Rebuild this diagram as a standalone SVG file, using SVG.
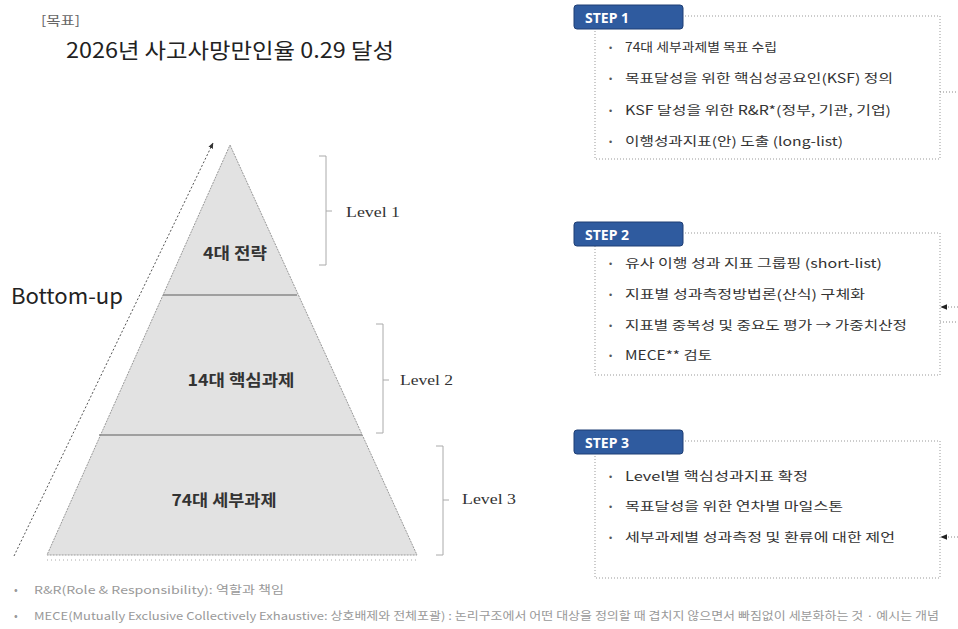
<svg xmlns="http://www.w3.org/2000/svg" width="958" height="629" viewBox="0 0 958 629">
<defs>
<style>
.kr{font-family:"Noto Sans CJK KR","Noto Sans",sans-serif}
.tab{fill:#2f5b9f;stroke:#1f3f75;stroke-width:1}
.tabt{font-family:"Noto Sans","Liberation Sans",sans-serif;font-weight:bold;font-size:14px;fill:#fff}
.box{fill:none;stroke:#999;stroke-width:1;stroke-dasharray:1 2}
.item{font-family:"Noto Sans CJK KR",sans-serif;font-size:12.5px;fill:#333}
.bul{font-family:"Liberation Sans",sans-serif;font-size:9px;fill:#555}
.lvl{font-family:"Liberation Serif",serif;font-size:14px;fill:#333}
.brk{fill:none;stroke:#aaa;stroke-width:1}
.pyr{font-family:"Noto Sans CJK KR",sans-serif;font-size:16px;font-weight:bold;fill:#333}
.foot{font-family:"Noto Sans CJK KR",sans-serif;font-size:11px;fill:#999}
.conn{fill:none;stroke:#888;stroke-width:1;stroke-dasharray:1 2}
</style>
<marker id="ah" viewBox="0 0 10 10" refX="9" refY="5" markerWidth="6" markerHeight="6" orient="auto">
<path d="M0,1 L10,5 L0,9 z" fill="#333"/>
</marker>
<marker id="ah2" viewBox="0 0 10 10" refX="9" refY="5" markerWidth="7" markerHeight="7" orient="auto">
<path d="M0,1 L10,5 L0,9 z" fill="#222"/>
</marker>
</defs>
<rect width="958" height="629" fill="#fff"/>

<g id="title">
<text x="41" y="25" class="kr" font-size="13" fill="#666" textLength="39" lengthAdjust="spacingAndGlyphs">[목표]</text>
<text x="66" y="58" class="kr" font-size="21" fill="#222" textLength="328" lengthAdjust="spacingAndGlyphs">2026년 사고사망만인율 0.29 달성</text>
</g>

<g id="pyramid">
<polygon points="230,145 417,555 47,555" fill="#e2e2e2" stroke="#999" stroke-width="1" stroke-dasharray="2 1"/>
<line x1="163" y1="295" x2="297" y2="295" stroke="#888" stroke-width="1.5"/>
<line x1="99" y1="435" x2="362" y2="435" stroke="#888" stroke-width="1.5"/>
<line x1="47" y1="560" x2="417" y2="560" stroke="#aaa" stroke-width="1" stroke-dasharray="1 3"/>
</g>
<g id="lvl1node"><text x="235" y="259" text-anchor="middle" class="pyr" textLength="64" lengthAdjust="spacingAndGlyphs">4대 전략</text></g>
<g id="lvl2node"><text x="241" y="386" text-anchor="middle" class="pyr" textLength="107" lengthAdjust="spacingAndGlyphs">14대 핵심과제</text></g>
<g id="lvl3node"><text x="224" y="506" text-anchor="middle" class="pyr" textLength="105" lengthAdjust="spacingAndGlyphs">74대 세부과제</text></g>

<g id="bottomup">
<line x1="14" y1="556" x2="213" y2="143" stroke="#555" stroke-width="1" stroke-dasharray="2 2" marker-end="url(#ah)"/>
<text x="11" y="304" class="kr" font-size="21" fill="#222" textLength="112" lengthAdjust="spacingAndGlyphs">Bottom-up</text>
</g>

<g id="level1">
<path class="brk" d="M319,156 H326 V265 H319 M326,211 H332"/>
<text x="346" y="217" class="lvl" textLength="54" lengthAdjust="spacingAndGlyphs">Level 1</text>
</g>
<g id="level2">
<path class="brk" d="M376,324 H383 V433 H376 M383,380 H389"/>
<text x="400" y="385" class="lvl" textLength="53" lengthAdjust="spacingAndGlyphs">Level 2</text>
</g>
<g id="level3">
<path class="brk" d="M436,446 H443 V555 H436 M443,500 H449"/>
<text x="462" y="504" class="lvl" textLength="54" lengthAdjust="spacingAndGlyphs">Level 3</text>
</g>

<g id="step1">
<rect class="box" x="595" y="16" width="345" height="143"/>
<rect class="tab" x="574" y="5" width="109" height="24" rx="3"/>
<text x="585" y="23" class="tabt">STEP 1</text>
<text x="609" y="51" class="bul">•</text><text x="625" y="52" class="item" textLength="152" lengthAdjust="spacingAndGlyphs">74대 세부과제별 목표 수립</text>
<text x="609" y="82" class="bul">•</text><text x="625" y="83" class="item" textLength="268" lengthAdjust="spacingAndGlyphs">목표달성을 위한 핵심성공요인(KSF) 정의</text>
<text x="609" y="114" class="bul">•</text><text x="625" y="115" class="item" textLength="266" lengthAdjust="spacingAndGlyphs">KSF 달성을 위한 R&amp;R*(정부, 기관, 기업)</text>
<text x="609" y="145" class="bul">•</text><text x="625" y="146" class="item" textLength="218" lengthAdjust="spacingAndGlyphs">이행성과지표(안) 도출 (long-list)</text>
</g>

<g id="step2">
<rect class="box" x="595" y="233" width="345" height="142"/>
<rect class="tab" x="574" y="222" width="109" height="24" rx="3"/>
<text x="585" y="240" class="tabt">STEP 2</text>
<text x="609" y="267" class="bul">•</text><text x="625" y="268" class="item" textLength="257" lengthAdjust="spacingAndGlyphs">유사 이행 성과 지표 그룹핑 (short-list)</text>
<text x="609" y="298" class="bul">•</text><text x="625" y="299" class="item" textLength="240" lengthAdjust="spacingAndGlyphs">지표별 성과측정방법론(산식) 구체화</text>
<text x="609" y="329" class="bul">•</text><text x="625" y="330" class="item" textLength="282" lengthAdjust="spacingAndGlyphs">지표별 중복성 및 중요도 평가 → 가중치산정</text>
<text x="609" y="359" class="bul">•</text><text x="625" y="360" class="item" textLength="87" lengthAdjust="spacingAndGlyphs">MECE** 검토</text>
</g>

<g id="step3">
<rect class="box" x="595" y="441" width="345" height="137"/>
<rect class="tab" x="574" y="430" width="109" height="24" rx="3"/>
<text x="585" y="448" class="tabt">STEP 3</text>
<text x="609" y="480" class="bul">•</text><text x="625" y="481" class="item" textLength="183" lengthAdjust="spacingAndGlyphs">Level별 핵심성과지표 확정</text>
<text x="609" y="510" class="bul">•</text><text x="625" y="511" class="item" textLength="218" lengthAdjust="spacingAndGlyphs">목표달성을 위한 연차별 마일스톤</text>
<text x="609" y="541" class="bul">•</text><text x="625" y="542" class="item" textLength="270" lengthAdjust="spacingAndGlyphs">세부과제별 성과측정 및 환류에 대한 제언</text>
</g>

<g id="connectors">
<line class="conn" x1="940" y1="92" x2="958" y2="92"/>
<line class="conn" x1="958" y1="307" x2="941" y2="307" marker-end="url(#ah2)"/>
<line class="conn" x1="940" y1="322" x2="958" y2="322"/>
<line class="conn" x1="958" y1="537" x2="941" y2="537" marker-end="url(#ah2)"/>
</g>

<g id="footnotes">
<text x="14" y="594" class="foot">•</text>
<text x="34" y="594" class="foot" textLength="250" lengthAdjust="spacingAndGlyphs">R&amp;R(Role &amp; Responsibility): 역할과 책임</text>
<text x="14" y="620" class="foot">•</text>
<text x="34" y="620" class="foot" textLength="905" lengthAdjust="spacingAndGlyphs">MECE(Mutually Exclusive Collectively Exhaustive: 상호배제와 전체포괄) : 논리구조에서 어떤 대상을 정의할 때 겹치지 않으면서 빠짐없이 세분화하는 것 · 예시는 개념</text>
</g>
</svg>
